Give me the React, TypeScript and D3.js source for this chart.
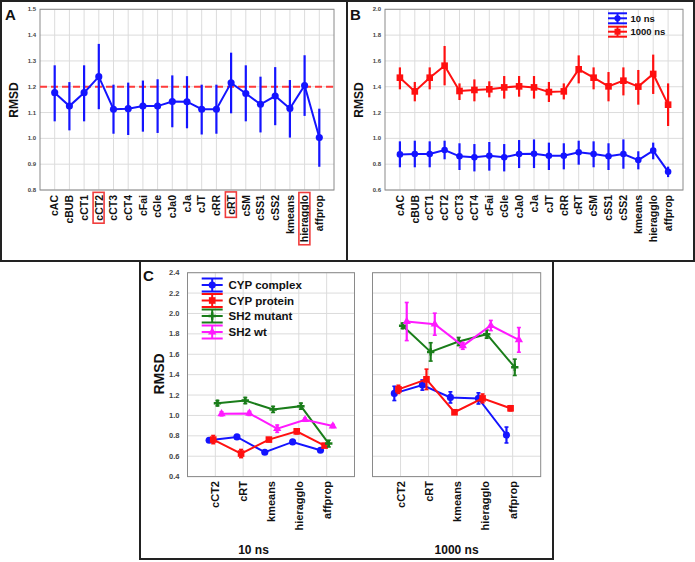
import React, { useEffect, useRef } from "react";
import * as d3 from "d3";

// ---------- DATA ----------
const catsAll = ["cAC","cBUB","cCT1","cCT2","cCT3","cCT4","cFai","cGle","cJa0","cJa","cJT","cRR","cRT","cSM","cSS1","cSS2","kmeans","hieragglo","affprop"];
const highlighted = ["cCT2","cRT","hieragglo"];
const aThreshold = 1.2;
const aMean = [1.177,1.125,1.177,1.239,1.113,1.115,1.125,1.125,1.143,1.142,1.113,1.113,1.215,1.174,1.132,1.164,1.116,1.205,1.003];
const aLow  = [1.066,1.031,1.066,1.113,1.018,1.013,1.026,1.021,1.043,1.039,1.015,1.018,1.097,1.066,1.023,1.051,1.003,1.087,0.890];
const aHigh = [1.283,1.218,1.283,1.366,1.208,1.216,1.224,1.229,1.244,1.241,1.208,1.208,1.332,1.283,1.239,1.276,1.226,1.322,1.115];
const aTicks = [0.8,0.9,1.0,1.1,1.2,1.3,1.4,1.5];

const b10Mean = [0.876,0.879,0.879,0.910,0.861,0.853,0.866,0.853,0.879,0.881,0.866,0.866,0.892,0.879,0.861,0.879,0.832,0.905,0.742];
const b10Low  = [0.776,0.776,0.776,0.838,0.755,0.744,0.750,0.744,0.770,0.770,0.755,0.760,0.796,0.776,0.755,0.765,0.760,0.838,0.700];
const b10High = [0.977,0.982,0.977,0.982,0.962,0.956,0.972,0.956,0.987,0.992,0.967,0.962,0.982,0.977,0.962,0.992,0.900,0.967,0.781];
const b1000Mean = [1.470,1.364,1.470,1.563,1.367,1.375,1.380,1.395,1.403,1.395,1.359,1.364,1.535,1.470,1.403,1.447,1.401,1.499,1.261];
const b1000Low  = [1.380,1.287,1.380,1.411,1.297,1.287,1.318,1.308,1.323,1.308,1.282,1.302,1.426,1.380,1.287,1.333,1.261,1.344,1.096];
const b1000High = [1.550,1.437,1.550,1.716,1.426,1.457,1.442,1.483,1.483,1.483,1.437,1.426,1.643,1.550,1.514,1.550,1.530,1.649,1.426];
const bTicks = [0.6,0.8,1.0,1.2,1.4,1.6,1.8,2.0];
const bLegend = ["10 ns","1000 ns"];

const cCats = ["cCT2","cRT","kmeans","hieragglo","affprop"];
const cSeries = ["CYP complex","CYP protein","SH2 mutant","SH2 wt"];
const cPanels = ["10 ns","1000 ns"];
const cTicks = [0.4,0.6,0.8,1.0,1.2,1.4,1.6,1.8,2.0,2.2,2.4];
// 10 ns
const complex10 = [0.756,0.789,0.639,0.740,0.659];
const complex10Err = [0.015,0.012,0.012,0.012,0.012];
const protein10 = [0.763,0.626,0.763,0.844,0.704];
const protein10Err = [0.04,0.04,0.015,0.025,0.015];
const mutant10 = [1.120,1.146,1.059,1.091,0.724];
const mutant10Err = [0.026,0.03,0.03,0.03,0.033];
const wt10 = [1.016,1.020,0.870,0.958,0.896];
const wt10Err = [0.02,0.02,0.036,0.015,0.015];
// 1000 ns
const complex1000 = [1.216,1.298,1.177,1.167,0.808];
const complex1000Err = [0.07,0.05,0.055,0.055,0.078];
const protein1000 = [1.256,1.354,1.031,1.167,1.070];
const protein1000Err = [0.04,0.1,0.015,0.043,0.025];
const mutant1000 = [1.879,1.623,1.725,1.797,1.472];
const mutant1000Err = [0.026,0.09,0.04,0.04,0.08];
const wt1000 = [1.921,1.895,1.682,1.882,1.741];
const wt1000Err = [0.187,0.108,0.033,0.05,0.121];

const FONT = "'Liberation Sans', Arial, Helvetica, sans-serif";
const BLUE = "#1414ff";
const RED = "#ff1010";
const GREEN = "#1a7d1a";
const MAGENTA = "#ff1aff";

export default function App() {
  const ref = useRef<SVGSVGElement | null>(null);

  useEffect(() => {
    const svg = d3.select(ref.current);
    svg.selectAll("*").remove();

    const frame = (x0: number, x1: number, y0: number, y1: number, xs: number[], ys: number[]) => {
      const g = svg.append("g");
      g.append("rect").attr("x", x0).attr("y", y0).attr("width", x1 - x0).attr("height", y1 - y0)
        .attr("fill", "#fff");
      xs.forEach((x) => g.append("line").attr("x1", x).attr("x2", x).attr("y1", y0).attr("y2", y1)
        .attr("stroke", "#dcdcdc").attr("stroke-width", 1));
      ys.forEach((y) => g.append("line").attr("x1", x0).attr("x2", x1).attr("y1", y).attr("y2", y)
        .attr("stroke", "#dcdcdc").attr("stroke-width", 1));
      g.append("rect").attr("x", x0).attr("y", y0).attr("width", x1 - x0).attr("height", y1 - y0)
        .attr("fill", "none").attr("stroke", "#8a8a8a").attr("stroke-width", 1);
    };

    const yLabels = (ticks: number[], y: d3.ScaleLinear<number, number>, xr: number, size: number) => {
      ticks.forEach((t) => svg.append("text").attr("x", xr).attr("y", y(t)).attr("dy", "0.35em")
        .attr("text-anchor", "end").attr("font-family", FONT).attr("font-weight", "bold")
        .attr("font-size", size).attr("fill", "#444").text(t.toFixed(1)));
    };

    const xLabels = (cats: string[], x: d3.ScalePoint<string>, yTop: number, size: number, boxes: string[] = []) => {
      cats.forEach((c) => {
        const g = svg.append("g").attr("transform", `translate(${x(c)},${yTop}) rotate(-90)`);
        const t = g.append("text").attr("x", 0).attr("y", 0).attr("dy", "0.36em")
          .attr("text-anchor", "end").attr("font-family", FONT).attr("font-weight", "bold")
          .attr("font-size", size).attr("fill", "#111").text(c);
        if (boxes.includes(c)) {
          const bb = (t.node() as SVGTextElement).getBBox();
          g.append("rect").attr("x", bb.x - 2.5).attr("y", bb.y + 0.5).attr("width", bb.width + 5)
            .attr("height", bb.height - 1).attr("fill", "none").attr("stroke", "#f03c3c").attr("stroke-width", 1.6);
        }
      });
    };

    const rmsd = (x: number, y: number, size: number) => {
      svg.append("text").attr("transform", `translate(${x},${y}) rotate(-90)`).attr("text-anchor", "middle")
        .attr("font-family", FONT).attr("font-weight", "bold").attr("font-size", size).attr("fill", "#111").text("RMSD");
    };

    const letter = (x: number, y: number, s: string, size: number) => {
      svg.append("text").attr("x", x).attr("y", y).attr("font-family", FONT).attr("font-weight", "bold")
        .attr("font-size", size).attr("fill", "#111").text(s);
    };

    const series = (xs: number[], means: number[], lows: number[], highs: number[],
      y: d3.ScaleLinear<number, number>, color: string, marker: string, cap: number, mSize: number) => {
      const g = svg.append("g");
      const pts = xs.map((x, i) => [x, y(means[i])] as [number, number]);
      g.append("path").attr("d", d3.line()(pts)).attr("fill", "none").attr("stroke", color).attr("stroke-width", 2);
      xs.forEach((x, i) => {
        g.append("line").attr("x1", x).attr("x2", x).attr("y1", y(lows[i])).attr("y2", y(highs[i]))
          .attr("stroke", color).attr("stroke-width", 2.2);
        if (cap > 0) {
          [lows[i], highs[i]].forEach((v) => g.append("line").attr("x1", x - cap).attr("x2", x + cap)
            .attr("y1", y(v)).attr("y2", y(v)).attr("stroke", color).attr("stroke-width", 1.6));
        }
      });
      const sym = marker === "circle" ? d3.symbolCircle : marker === "square" ? d3.symbolSquare
        : marker === "triangle" ? d3.symbolTriangle : d3.symbolCross;
      pts.forEach(([px, py]) => g.append("path").attr("d", d3.symbol().type(sym).size(mSize)())
        .attr("transform", `translate(${px},${py})`).attr("fill", color));
    };

    const legendRow = (x0: number, x1: number, y: number, half: number, color: string, marker: string,
      mSize: number, label: string, size: number, tx: number) => {
      const cx = (x0 + x1) / 2;
      [y - half, y, y + half].forEach((yy) => svg.append("line").attr("x1", x0).attr("x2", x1).attr("y1", yy).attr("y2", yy)
        .attr("stroke", color).attr("stroke-width", 2));
      svg.append("line").attr("x1", cx).attr("x2", cx).attr("y1", y - half).attr("y2", y + half)
        .attr("stroke", color).attr("stroke-width", 2);
      const sym = marker === "circle" ? d3.symbolCircle : marker === "square" ? d3.symbolSquare
        : marker === "triangle" ? d3.symbolTriangle : d3.symbolCross;
      svg.append("path").attr("d", d3.symbol().type(sym).size(mSize)()).attr("transform", `translate(${cx},${y})`).attr("fill", color);
      svg.append("text").attr("x", tx).attr("y", y).attr("dy", "0.35em").attr("font-family", FONT)
        .attr("font-weight", "bold").attr("font-size", size).attr("fill", "#111").text(label);
    };

    // ---------- Panel A ----------
    const xA = d3.scalePoint<string>().domain(catsAll).range([40, 334]).padding(1);
    const yA = d3.scaleLinear().domain([0.8, 1.5]).range([190, 9.3]);
    frame(40, 334, 9.3, 190, catsAll.map((c) => xA(c) as number), aTicks.map((t) => yA(t)));
    svg.append("line").attr("x1", 40).attr("x2", 334).attr("y1", yA(aThreshold)).attr("y2", yA(aThreshold))
      .attr("stroke", "#ff3b3b").attr("stroke-width", 2).attr("stroke-dasharray", "7,4");
    series(catsAll.map((c) => xA(c) as number), aMean, aLow, aHigh, yA, BLUE, "circle", 0, 40);
    yLabels(aTicks, yA, 36, 6);
    xLabels(catsAll, xA, 195, 10.5, highlighted);
    rmsd(17.5, 100, 12);
    letter(5, 19.5, "A", 15);

    // ---------- Panel B ----------
    const xB = d3.scalePoint<string>().domain(catsAll).range([385, 683]).padding(1);
    const yB = d3.scaleLinear().domain([0.6, 2.0]).range([190, 9.3]);
    frame(385, 683, 9.3, 190, catsAll.map((c) => xB(c) as number), bTicks.map((t) => yB(t)));
    const xsB = catsAll.map((c) => xB(c) as number);
    series(xsB, b10Mean, b10Low, b10High, yB, BLUE, "circle", 0, 34);
    series(xsB, b1000Mean, b1000Low, b1000High, yB, RED, "square", 0, 44);
    yLabels(bTicks, yB, 381, 6);
    xLabels(catsAll, xB, 195, 10.5);
    rmsd(362.5, 100, 12);
    letter(350, 19.5, "B", 15);
    legendRow(608, 627, 18.3, 5, BLUE, "circle", 30, bLegend[0], 9.5, 630.5);
    legendRow(608, 627, 31.7, 5, RED, "square", 36, bLegend[1], 9.5, 630.5);

    // ---------- Panel C ----------
    const yC = d3.scaleLinear().domain([0.4, 2.4]).range([476.6, 272.7]);
    const xC1 = d3.scalePoint<string>().domain(cCats).range([187.5, 354.5]).padding(1);
    const xC2 = d3.scalePoint<string>().domain(cCats).range([372.5, 540.7]).padding(1);
    const offsets = [-6.2, -2.1, 2.1, 6.2];
    const colors = [BLUE, RED, GREEN, MAGENTA];
    const markers = ["circle", "square", "cross", "triangle"];
    const mSizes = [40, 44, 30, 30];
    const data10 = [[complex10, complex10Err], [protein10, protein10Err], [mutant10, mutant10Err], [wt10, wt10Err]];
    const data1000 = [[complex1000, complex1000Err], [protein1000, protein1000Err], [mutant1000, mutant1000Err], [wt1000, wt1000Err]];
    [[xC1, data10], [xC2, data1000]].forEach(([xs, dat]: any) => {
      const r = xs.range();
      frame(r[0], r[1], 272.7, 476.6, cCats.map((c) => xs(c)), cTicks.map((t) => yC(t)));
      dat.forEach(([m, e]: number[][], si: number) => {
        series(cCats.map((c) => xs(c) + offsets[si]), m, m.map((v, i) => v - e[i]), m.map((v, i) => v + e[i]),
          yC, colors[si], markers[si], 2, mSizes[si]);
      });
      xLabels(cCats, xs, 481, 11);
    });
    yLabels(cTicks, yC, 179.5, 7.5);
    rmsd(164, 374, 14);
    letter(143, 281, "C", 15);
    svg.append("text").attr("x", 253.5).attr("y", 554).attr("text-anchor", "middle").attr("font-family", FONT)
      .attr("font-weight", "bold").attr("font-size", 12).attr("fill", "#111").text(cPanels[0]);
    svg.append("text").attr("x", 456.6).attr("y", 554).attr("text-anchor", "middle").attr("font-family", FONT)
      .attr("font-weight", "bold").attr("font-size", 12).attr("fill", "#111").text(cPanels[1]);
    const legY = [285, 300.5, 316, 332];
    cSeries.forEach((s, i) => legendRow(201.7, 222.7, legY[i], 6.5, colors[i], markers[i], mSizes[i], s, 11.5, 228.5));

    // ---------- Panel borders ----------
    const border = (x: number, y: number, w: number, h: number) => svg.append("rect").attr("x", x).attr("y", y)
      .attr("width", w).attr("height", h).attr("fill", "none").attr("stroke", "#222").attr("stroke-width", 2);
    border(1, 1, 346, 260);
    border(347, 1, 347, 260);
    border(140, 261, 413, 298);
  }, []);

  return (
    <svg ref={ref} width={695} height={562} style={{ position: "absolute", left: 0, top: 0, background: "#fff" }} />
  );
}
